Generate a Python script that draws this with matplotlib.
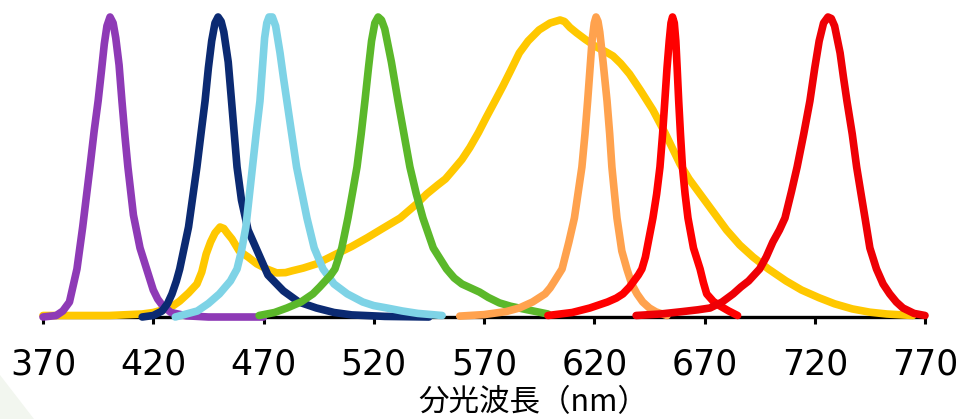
import matplotlib.pyplot as plt
from matplotlib.patches import Polygon

# Spectra: wavelength (nm), relative intensity
purple_nm = [370, 376, 379, 382, 385.4, 388, 391.3, 393.2, 395, 396.5, 397.8, 399, 400.4,
             401.8, 403, 404.5, 405.8, 407.2, 408.5, 411, 414, 417, 420, 422, 424, 428,
             435, 445, 470]
purple_val = [0, 0.005, 0.02, 0.05, 0.16, 0.3, 0.5, 0.62, 0.72, 0.82, 0.91, 0.97, 1.0,
              0.98, 0.93, 0.84, 0.72, 0.6, 0.5, 0.34, 0.23, 0.16, 0.09, 0.06, 0.04, 0.015,
              0.004, 0, 0]

navy_nm = [415, 420, 424, 426.5, 428.5, 430.5, 432, 436, 439.8, 441.8, 443.5, 445, 446.5,
           448, 449.4, 450.8, 452, 454, 455.5, 458, 460, 463, 468.4, 472, 479, 486, 494,
           502, 510, 525, 545]
navy_val = [0, 0.005, 0.02, 0.045, 0.077, 0.12, 0.16, 0.3, 0.5, 0.62, 0.72, 0.83, 0.92,
            0.98, 1.0, 0.985, 0.95, 0.85, 0.72, 0.5, 0.39, 0.29, 0.2, 0.14, 0.087, 0.05,
            0.03, 0.015, 0.007, 0.002, 0]

cyan_nm = [430, 440, 445, 450, 455, 458, 460, 462, 465, 466.8, 468.4, 469.5, 470.5, 471.5,
           472.5, 474, 475.5, 477.5, 479, 480.6, 483, 485, 487.5, 489.7, 493, 497, 502,
           508, 515, 520, 526, 533, 540, 551]
cyan_val = [0, 0.02, 0.045, 0.077, 0.12, 0.16, 0.22, 0.3, 0.5, 0.62, 0.72, 0.83, 0.93, 0.98,
            1.0, 1.0, 0.97, 0.88, 0.8, 0.72, 0.6, 0.5, 0.41, 0.33, 0.23, 0.16, 0.11,
            0.077, 0.05, 0.038, 0.03, 0.02, 0.012, 0.005]

green_nm = [468, 475, 480.6, 487, 492.4, 495.5, 498, 500.5, 502.4, 505.5, 508.3, 510.5,
            512.4, 514.3, 516, 517.6, 519, 520.5, 522, 523.5, 525, 528, 531, 533.7, 536.4,
            539.3, 542.3, 547, 553, 556.5, 560, 568, 572, 577, 582, 587.7, 599]
green_val = [0.005, 0.015, 0.03, 0.05, 0.077, 0.1, 0.12, 0.14, 0.16, 0.23, 0.33, 0.42,
             0.5, 0.61, 0.72, 0.83, 0.92, 0.98, 1.0, 0.99, 0.96, 0.85, 0.72, 0.61, 0.5,
             0.41, 0.33, 0.23, 0.16, 0.13, 0.11, 0.083, 0.065, 0.047, 0.036, 0.027, 0.01]

yellow_nm = [370, 400, 415, 420, 425, 428.5, 432, 436, 439.8, 442, 444, 446, 448, 450.3,
             452, 453.5, 455.7, 459, 463, 467, 471.5, 476, 480, 483, 488, 494, 503, 510,
             517, 524, 532, 539.6, 544, 549, 552.5, 556, 560, 563.6, 567.5, 571, 575,
             578.6, 582, 586, 590, 595, 600, 604.5, 606.5, 609, 612, 616, 621, 625, 628.5,
             632, 636, 641, 646.6, 652, 658.9, 663, 668, 674, 680, 686, 692, 699, 707,
             714, 722, 729, 737, 745, 752.7, 764.5]
yellow_val = [0.005, 0.005, 0.01, 0.015, 0.025, 0.035, 0.053, 0.08, 0.11, 0.15, 0.21, 0.25,
              0.28, 0.30, 0.295, 0.28, 0.26, 0.22, 0.2, 0.177, 0.16, 0.147, 0.148, 0.154,
              0.163, 0.177, 0.21, 0.235, 0.264, 0.295, 0.33, 0.378, 0.41, 0.44, 0.46,
              0.49, 0.525, 0.565, 0.615, 0.665, 0.72, 0.77, 0.82, 0.88, 0.92, 0.957,
              0.98, 0.99, 0.985, 0.965, 0.947, 0.925, 0.9, 0.885, 0.87, 0.845, 0.81, 0.755,
              0.69, 0.615, 0.51, 0.46, 0.41, 0.35, 0.29, 0.24, 0.2, 0.16, 0.12, 0.09,
              0.064, 0.044, 0.027, 0.016, 0.01, 0.005]

orange_nm = [559, 570, 580, 586, 592, 597.7, 600, 602, 605.4, 608.5, 611, 612.8, 614.4,
             615.8, 617, 618, 619, 620, 620.8, 621.7, 622.5, 624, 625.8, 627, 628, 629.2,
             630.3, 632.5, 634.8, 637, 639.4, 642, 645, 648, 653]
orange_val = [0.003, 0.008, 0.018, 0.03, 0.05, 0.077, 0.097, 0.12, 0.16, 0.25, 0.33, 0.42,
              0.5, 0.61, 0.72, 0.82, 0.92, 0.98, 1.0, 0.985, 0.95, 0.85, 0.72, 0.61, 0.5,
              0.41, 0.33, 0.22, 0.16, 0.11, 0.077, 0.05, 0.03, 0.017, 0.005]

red1_nm = [599, 610, 618, 622, 626, 630, 633, 636, 638, 640, 641.6, 643.2, 644.5, 646.6,
           648.3, 649.8, 651, 652, 653, 654, 654.8, 655.5, 656.3, 657, 657.6, 658.3,
           659.1, 660, 661.2, 662.5, 665, 668, 669.5, 671, 674, 677, 681, 685]
red1_val = [0.005, 0.015, 0.03, 0.04, 0.05, 0.063, 0.077, 0.1, 0.12, 0.14, 0.16, 0.2, 0.25,
            0.33, 0.41, 0.5, 0.61, 0.72, 0.83, 0.92, 0.98, 1.0, 0.98, 0.92, 0.83, 0.72,
            0.61, 0.5, 0.41, 0.33, 0.23, 0.16, 0.115, 0.077, 0.052, 0.037, 0.02, 0.005]

red2_nm = [639, 650, 660, 667, 672.5, 678, 683, 686.5, 690, 692.5, 695, 698, 701, 704,
           706.5, 709.5, 712, 715, 717.8, 720, 722, 724, 726, 727.5, 729, 731.5, 733,
           734.6, 737, 739, 741, 742.8, 745, 748, 751, 754, 757, 760, 765, 770]
red2_val = [0.005, 0.01, 0.018, 0.024, 0.03, 0.05, 0.077, 0.1, 0.12, 0.14, 0.16, 0.2,
            0.25, 0.29, 0.33, 0.42, 0.5, 0.61, 0.72, 0.83, 0.92, 0.98, 1.0, 0.995, 0.97,
            0.88, 0.8, 0.72, 0.61, 0.5, 0.41, 0.33, 0.23, 0.16, 0.11, 0.077, 0.05, 0.03,
            0.012, 0.005]

tick_nm = [370, 420, 470, 520, 570, 620, 670, 720, 770]
x_label = "分光波長（nm）"

# drawing order: bottom first
curves = [
    (yellow_nm, yellow_val, "#FFC800"),
    (purple_nm, purple_val, "#8E3AB6"),
    (navy_nm, navy_val, "#0B2A72"),
    (cyan_nm, cyan_val, "#7ED3E6"),
    (green_nm, green_val, "#5BB82A"),
    (orange_nm, orange_val, "#FFA24E"),
    (red1_nm, red1_val, "#FF0000"),
    (red2_nm, red2_val, "#EE0005"),
]


def main():
    fig = plt.figure(figsize=(9.8, 4.19), dpi=100)
    # faint decoration in the lower left corner
    fig.patches.append(Polygon([(0, 0), (0, 44 / 419), (34 / 980, 0)], closed=True,
                               transform=fig.transFigure, facecolor="#F2F6EF",
                               edgecolor="none", zorder=0))
    ax = fig.add_axes([43 / 980, (419 - 317) / 419, 882 / 980, 306 / 419])
    ax.patch.set_alpha(0)

    for nm, val, color in curves:
        ax.plot(nm, val, color=color, lw=5.5, solid_capstyle="round",
                solid_joinstyle="round", clip_on=False)

    ax.set_xlim(370, 770)
    ax.set_ylim(0, 1.02)
    for side in ["top", "right", "left"]:
        ax.spines[side].set_visible(False)
    ax.spines["bottom"].set_linewidth(2.4)
    ax.spines["bottom"].set_zorder(0)
    ax.set_yticks([])
    ax.set_xticks(tick_nm)
    ax.set_xticklabels([str(t) for t in tick_nm])
    ax.tick_params(axis="x", direction="out", length=5, width=2.2, pad=17,
                   labelsize=25)
    fig.text(533 / 980, (419 - 403) / 419, x_label, fontsize=22, ha="center",
             va="center", family=["Noto Sans CJK JP", "DejaVu Sans"])

    fig.savefig("out.png", dpi=100)


if __name__ == "__main__":
    main()
